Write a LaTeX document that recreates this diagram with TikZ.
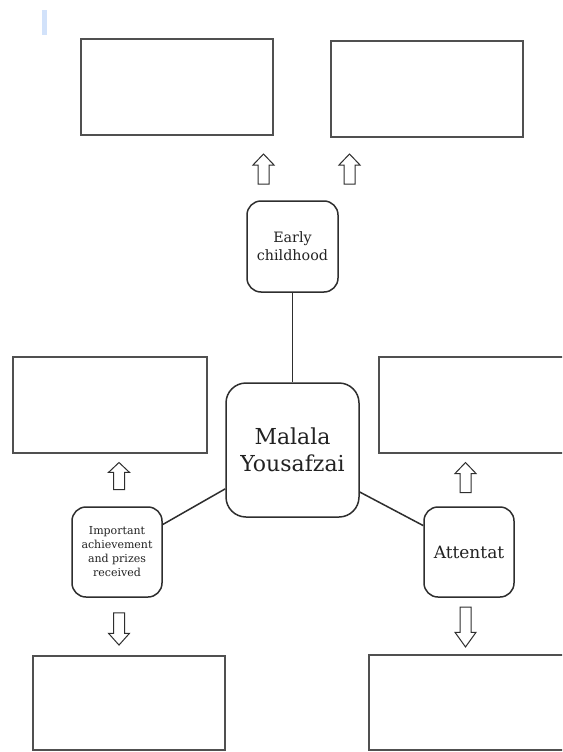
\documentclass[tikz,border=0pt]{standalone}
\usepackage{fontspec}
\setmainfont{DejaVu Serif}
\definecolor{linegray}{HTML}{2E2E2E}
\definecolor{boxgray}{HTML}{505050}
\definecolor{barblue}{HTML}{D2E2FA}
\definecolor{textgray}{HTML}{222222}
\begin{document}
\begin{tikzpicture}[x=1pt,y=-1pt,
  box/.style={draw=boxgray,line width=1.2pt,rectangle,inner sep=0pt},
  rbox/.style={draw=linegray,line width=1.5pt,rounded corners=14pt,align=center,inner sep=0pt,text=textgray},
  link/.style={draw=linegray,line width=1.5pt},
  arr/.style={draw=linegray,line width=1pt,fill=white},
  uparr/.pic={\path[arr] (-5.5,15) -- (-5.5,-4) -- (-10.5,-4) -- (0,-15) -- (10.5,-4) -- (5.5,-4) -- (5.5,15) -- cycle;}
]
\useasboundingbox (0,0) rectangle (562,752);
\fill[white] (0,0) rectangle (562,752);
\clip (0,0) rectangle (562,752);
\fill[barblue] (41.5,10) rectangle (46.5,35);
% empty boxes
\node[box,minimum width=192pt,minimum height=96pt] (tl) at (177,87) {};
\node[box,minimum width=192pt,minimum height=96pt] (tr) at (427,89) {};
\node[box,minimum width=194pt,minimum height=96pt] (ml) at (110,405) {};
\node[box,minimum width=196pt,minimum height=96pt] (mr) at (477,405) {};
\node[box,minimum width=192pt,minimum height=94pt] (bl) at (129,703) {};
\node[box,minimum width=201pt,minimum height=95pt] (br) at (469.5,702.5) {};
% rounded boxes
\node[rbox,minimum width=91pt,minimum height=91pt,font=\fontsize{14.3}{18}\selectfont] (early) at (292.5,246.5) {Early\\childhood};
\node[rbox,rounded corners=20pt,minimum width=133pt,minimum height=134pt,font=\fontsize{22}{27}\selectfont] (mal) at (292.5,450) {Malala\\Yousafzai};
\node[rbox,minimum width=90pt,minimum height=90pt,font=\fontsize{11}{14}\selectfont] (imp) at (117,552) {Important\\achievement\\and prizes\\received};
\node[rbox,minimum width=90pt,minimum height=90pt,font=\fontsize{17}{20}\selectfont] (att) at (469,552) {Attentat};
% connectors
\draw[link] (early.south) -- (mal.north);
\draw[link] (imp.31) -- (mal.210);
\draw[link] (mal.-32) -- (att.150);
% block arrows
\pic at (263.5,169) {uparr};
\pic at (349.5,169) {uparr};
\pic[yscale=0.9] at (119,476) {uparr};
\pic at (465.5,477.5) {uparr};
\pic[rotate=180,yscale=1.07] at (119,629) {uparr};
\pic[rotate=180,yscale=1.33] at (465.5,627) {uparr};
\end{tikzpicture}
\end{document}
